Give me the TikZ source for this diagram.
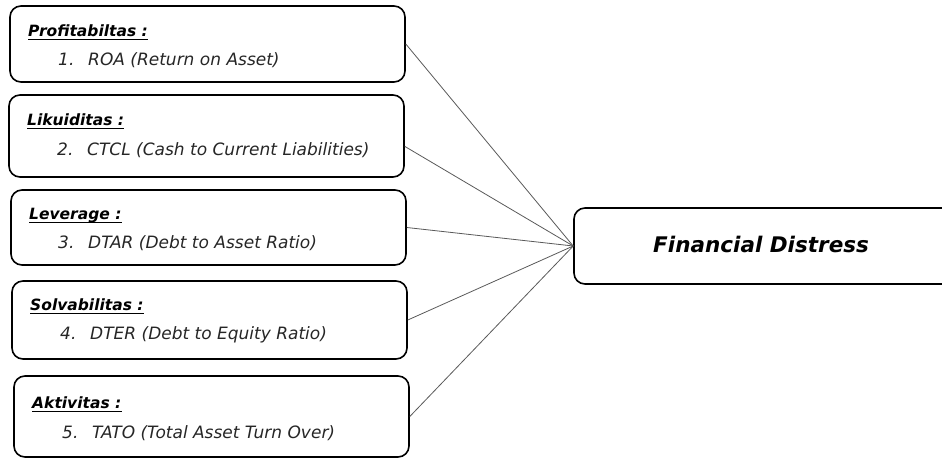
\documentclass[tikz,border=0pt]{standalone}
\usepackage{fontspec}
\setmainfont{DejaVu Sans}

\begin{document}
\begin{tikzpicture}[x=1pt,y=-1pt,
 box/.style={draw=black,line width=1.6pt,rounded corners=11pt,minimum width=395pt,inner sep=0pt},
 head/.style={anchor=base west,inner sep=0pt,font=\fontsize{15.5}{18}\selectfont\bfseries\itshape},
 item/.style={anchor=base west,inner sep=0pt,font=\fontsize{17}{20}\selectfont\itshape,text=black!85},
 link/.style={draw=black!65,line width=0.8pt},
 under/.style={draw=black,line width=1pt}]
 \useasboundingbox (0,0) rectangle (942,459);

 \coordinate (c1) at (207.5,44);
 \coordinate (c2) at (206.5,136);
 \coordinate (c3) at (208.5,227.5);
 \coordinate (c4) at (209.5,320);
 \coordinate (c5) at (211.5,416.5);
 \coordinate (cf) at (767,246);

 \node [box,minimum height=76pt] (b1) at (c1) {};
 \node [box,minimum height=82pt] (b2) at (c2) {};
 \node [box,minimum height=75pt] (b3) at (c3) {};
 \node [box,minimum height=78pt] (b4) at (c4) {};
 \node [box,minimum height=81pt] (b5) at (c5) {};
 \node [box,minimum width=386pt,minimum height=76pt] (fd) at (cf) {};

 \draw[link] (b1.east)--(fd.west);
 \draw[link] (b2.-3)--(fd.west);
 \draw[link] (b3.east)--(fd.west);
 \draw[link] (b4.east)--(fd.west);
 \draw[link] (b5.east)--(fd.west);

 \node [head] (t1) at (28,36) {Profitabiltas :};
 \node [item] (i1) at (58,65) {\makebox[30pt][l]{1.}ROA (Return on Asset)};
 \node [head] (t2) at (27,125) {Likuiditas :};
 \node [item] (i2) at (57,155) {\makebox[30pt][l]{2.}CTCL (Cash to Current Liabilities)};
 \node [head] (t3) at (29,219) {Leverage :};
 \node [item] (i3) at (58,248) {\makebox[30pt][l]{3.}DTAR (Debt to Asset Ratio)};
 \node [head] (t4) at (30,310) {Solvabilitas :};
 \node [item] (i4) at (60,339) {\makebox[30pt][l]{4.}DTER (Debt to Equity Ratio)};
 \node [head] (t5) at (32,408) {Aktivitas :};
 \node [item] (i5) at (62,438) {\makebox[30pt][l]{5.}TATO (Total Asset Turn Over)};

 \foreach \t in {t1,t2,t3,t4,t5}
  \draw[under] ([yshift=-3.5pt]\t.base west)--([yshift=-3.5pt]\t.base east);

 \node [anchor=base west,inner sep=0pt,font=\fontsize{21.5}{25}\selectfont\bfseries\itshape] (ft) at (653,252) {Financial Distress};

\end{tikzpicture}
\end{document}
